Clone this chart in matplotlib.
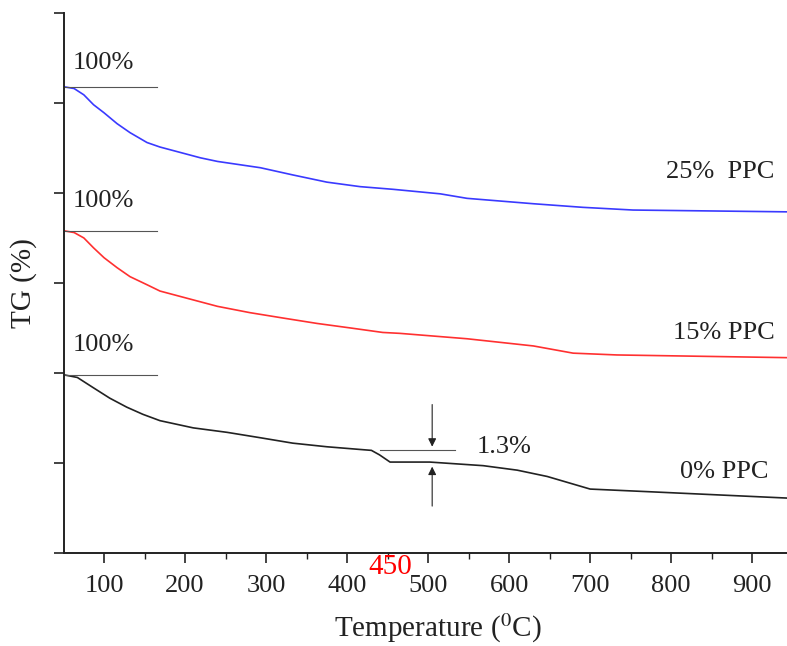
import numpy as np
import matplotlib.pyplot as plt
from matplotlib.ticker import MultipleLocator, NullFormatter

# Curvas TG (temperatura en °C, pérdida de masa en %)
temp_25 = [50, 63, 75, 87, 100, 116, 132, 153, 169, 194, 219, 240, 293, 333, 375,
           416, 457, 515, 548, 630, 691, 753, 943]
tg_25 = [100, 99.8, 99.1, 98.0, 97.1, 95.9, 94.9, 93.8, 93.3, 92.7, 92.1, 91.7, 91.0, 90.2, 89.4,
         88.9, 88.6, 88.1, 87.6, 87.0, 86.6, 86.3, 86.1]

temp_15 = [50, 63, 75, 87, 100, 116, 132, 153, 169, 194, 240, 280, 321, 363,
           404, 444, 465, 548, 630, 679, 733, 943]
tg_15 = [100, 99.8, 99.2, 98.1, 97.0, 95.9, 94.9, 94.0, 93.3, 92.7, 91.6, 90.9, 90.3, 89.7,
         89.2, 88.7, 88.6, 88.0, 87.2, 86.4, 86.2, 85.9]

temp_0 = [50, 67, 86, 107, 128, 148, 169, 210, 252, 293, 333, 375, 416, 430, 440, 453,
          502, 568, 610, 647, 700, 774, 943]
tg_0 = [100, 99.7, 98.6, 97.4, 96.4, 95.6, 94.9, 94.1, 93.6, 93.0, 92.4, 92.0, 91.7, 91.6, 91.1, 90.3,
        90.3, 89.9, 89.4, 88.7, 87.3, 87.0, 86.3]

# Desplazamiento vertical de cada curva en el gráfico
desplaz_25 = 48.2
desplaz_15 = 64.2
desplaz_0 = 80.2

paso = 1.3  # escalón alrededor de 450 °C
t_paso = 430

plt.rcParams['font.family'] = ['Liberation Serif', 'DejaVu Serif']
plt.rcParams['mathtext.fontset'] = 'stix'

fig = plt.figure(figsize=(7.87, 6.46), dpi=100)
ax = fig.add_axes([0.0813, 0.144, 0.9187, 0.836])

ax.plot(temp_25, np.array(tg_25) - desplaz_25, color='#3a3aff', lw=1.2)
ax.plot(temp_15, np.array(tg_15) - desplaz_15, color='#ff3030', lw=1.2)
ax.plot(temp_0, np.array(tg_0) - desplaz_0, color='#222222', lw=1.2)

# Líneas de referencia del 100 % y etiquetas
for d, dy in [(desplaz_25, 2.0), (desplaz_15, 2.6), (desplaz_0, 2.6)]:
    ax.plot([50, 165], [100 - d, 100 - d], color='#555555', lw=0.8)
    ax.text(61, 100 - d + dy, '100%', fontsize=19, color='#222222')

ax.text(928, tg_25[-1] - desplaz_25 + 3.8, '25%  PPC', fontsize=19, ha='right', color='#222222')
ax.text(928, tg_15[-1] - desplaz_15 + 2.1, '15% PPC', fontsize=19, ha='right', color='#222222')
ax.text(920, tg_0[-1] - desplaz_0 + 2.2, '0% PPC', fontsize=19, ha='right', color='#222222')

# Escalón de 1.3 % con flechas
y_arriba = tg_0[temp_0.index(t_paso)] - desplaz_0
y_abajo = y_arriba - paso
ax.plot([441, 533], [y_arriba, y_arriba], color='#555555', lw=0.8)
ax.annotate('', xy=(505, y_arriba + 0.1), xytext=(505, y_arriba + 5.4),
            arrowprops=dict(arrowstyle='-|>', color='#222222', lw=0.8, mutation_scale=12))
ax.annotate('', xy=(505, y_abajo - 0.2), xytext=(505, y_abajo - 5.2),
            arrowprops=dict(arrowstyle='-|>', color='#222222', lw=0.8, mutation_scale=12))
ax.text(560, y_arriba - 0.3, '1.3%', fontsize=19, color='#222222')
ax.text(453, -1.6, '450', fontsize=21, color='red', ha='center', va='center', clip_on=False)

ax.set_xlim(50.5, 943)
ax.set_ylim(0, 60)
ax.xaxis.set_major_locator(MultipleLocator(100))
ax.xaxis.set_minor_locator(MultipleLocator(50))
ax.yaxis.set_major_locator(MultipleLocator(10))
ax.yaxis.set_major_formatter(NullFormatter())

for lado in ['top', 'right']:
    ax.spines[lado].set_visible(False)
for lado in ['left', 'bottom']:
    ax.spines[lado].set_linewidth(1.4)
    ax.spines[lado].set_color('#222222')

ax.tick_params(which='major', direction='out', length=7, width=1.2, colors='#222222', labelsize=19, pad=9)
ax.tick_params(which='minor', direction='out', length=4, width=1.0, colors='#222222')

ax.set_xlabel('Temperature ($^{0}$C)', fontsize=21, color='#222222')
ax.xaxis.set_label_coords(0.517, -0.108)
ax.set_ylabel('TG (%)', fontsize=21, color='#222222')
ax.yaxis.set_label_coords(-0.038, 0.5)

fig.savefig('out.png', dpi=100)
